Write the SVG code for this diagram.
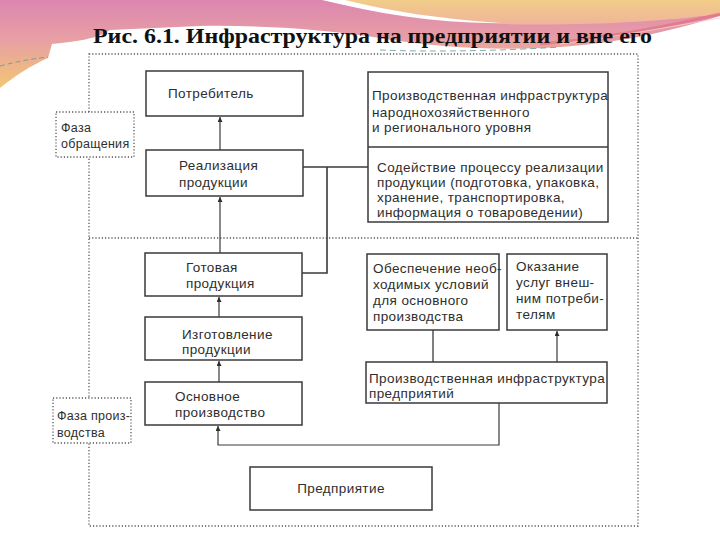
<svg xmlns="http://www.w3.org/2000/svg" width="720" height="540" viewBox="0 0 720 540">
<defs>
<style>
.t{font-family:"Liberation Sans",Arial,sans-serif;font-size:13.5px;letter-spacing:0.4px;fill:#2e2e2e}
.p{font-family:"Liberation Sans",Arial,sans-serif;font-size:12.5px;letter-spacing:0.3px;fill:#2e2e2e}
.box{fill:#fff;stroke:#3a3a3a;stroke-width:1.5}
.dot{fill:none;stroke:#555;stroke-width:1.3;stroke-dasharray:1.2 2}
.dotbox{fill:#fff;stroke:#555;stroke-width:1.3;stroke-dasharray:1.2 2}
.ln{fill:none;stroke:#3a3a3a;stroke-width:1.3}
.ar{fill:none;stroke:#3a3a3a;stroke-width:1.2;marker-end:url(#ah)}
</style>
<marker id="ah" markerWidth="6" markerHeight="5" refX="5" refY="2.5" orient="auto" markerUnits="userSpaceOnUse">
<path d="M0,0 L5,2.5 L0,5 z" fill="#2e2e2e"/>
</marker>
<linearGradient id="gl" x1="0" y1="0" x2="0" y2="90" gradientUnits="userSpaceOnUse">
<stop offset="0" stop-color="#dc86b0"/>
<stop offset="0.45" stop-color="#e8a0a4"/>
<stop offset="1" stop-color="#f3c870"/>
</linearGradient>
<linearGradient id="gr" x1="0" y1="0" x2="0" y2="50" gradientUnits="userSpaceOnUse">
<stop offset="0" stop-color="#f1cd88"/>
<stop offset="0.5" stop-color="#f0b49a"/>
<stop offset="1" stop-color="#eea0a8"/>
</linearGradient>
</defs>

<g id="background">
<rect x="0" y="0" width="720" height="540" fill="#ffffff"/>
<path d="M0,0 L720,0 L720,16 C680,28 630,42 560,47 C500,51 440,48 380,38 C330,30 270,25 200,26 L110,30 C100,36 92,40 52,44 L48,58 C30,66 15,76 0,88 Z" fill="url(#gl)"/>
<path d="M340,0 L720,0 L720,14 C660,22 580,26 500,24 C440,20 390,10 340,0 Z" fill="url(#gr)"/>
<path d="M322,0 L345,0 C390,11 440,19 500,23 C440,24 380,14 322,0 Z" fill="#ffffff"/>
<path d="M540,44 C610,38 670,26 720,14" fill="none" stroke="#e27080" stroke-width="3" opacity="0.7"/>
<path d="M560,44 C620,36 675,26 720,18" fill="none" stroke="#f6d0d0" stroke-width="1" opacity="0.8"/>
<path d="M380,50 C430,52 500,51 560,47" fill="none" stroke="#5f9a98" stroke-width="1" stroke-dasharray="6 4" opacity="0.8"/>
<path d="M0,66 C15,62 30,59 48,57" fill="none" stroke="#5f9a98" stroke-width="1" stroke-dasharray="5 3" opacity="0.8"/>
</g>

<text id="title" x="93" y="43" font-family="'Liberation Serif','Times New Roman',serif" font-size="22" font-weight="bold" fill="#111" textLength="559" lengthAdjust="spacingAndGlyphs">Рис. 6.1. Инфраструктура на предприятии и вне его</text>

<g id="frame">
<rect class="dot" x="89" y="54" width="549" height="472"/>
<line class="dot" x1="89" y1="238" x2="638" y2="238"/>
</g>

<g id="connectors">
<line class="ar" x1="220" y1="150" x2="220" y2="117"/>
<line class="ar" x1="220" y1="253" x2="220" y2="197"/>
<line class="ar" x1="219" y1="317" x2="219" y2="297"/>
<line class="ar" x1="219" y1="382" x2="219" y2="361"/>
<polyline class="ar" points="499,403 499,445 218,445 218,426"/>
<line class="ar" x1="557" y1="362" x2="557" y2="331"/>
<line class="ln" x1="433" y1="330" x2="433" y2="362"/>
<line class="ln" x1="303" y1="167" x2="368" y2="167" style="stroke-width:1.6"/>
<polyline class="ln" points="302,273 327,273 327,167" style="stroke-width:1.6"/>
</g>

<g id="phase-circulation">
<rect class="dotbox" x="56" y="112" width="78" height="45"/>
<text class="p" x="61" y="132">Фаза</text>
<text class="p" x="61" y="148">обращения</text>
</g>

<g id="phase-production">
<rect class="dotbox" x="53" y="398" width="78" height="45"/>
<text class="p" x="57" y="420">Фаза произ-</text>
<text class="p" x="57" y="437">водства</text>
</g>

<g id="consumer">
<rect class="box" x="146" y="71" width="157" height="45"/>
<text class="t" x="168" y="98">Потребитель</text>
</g>

<g id="realization">
<rect class="box" x="146" y="150" width="157" height="46"/>
<text class="t" x="179" y="170">Реализация</text>
<text class="t" x="179" y="187">продукции</text>
</g>

<g id="finished">
<rect class="box" x="145" y="253" width="157" height="43"/>
<text class="t" x="186" y="272">Готовая</text>
<text class="t" x="186" y="288">продукция</text>
</g>

<g id="manufacturing">
<rect class="box" x="145" y="317" width="157" height="43"/>
<text class="t" x="182" y="339">Изготовление</text>
<text class="t" x="182" y="354">продукции</text>
</g>

<g id="main-production">
<rect class="box" x="145" y="382" width="157" height="43"/>
<text class="t" x="175" y="401">Основное</text>
<text class="t" x="175" y="417">производство</text>
</g>

<g id="national-infrastructure">
<rect class="box" x="368" y="72" width="240" height="150"/>
<line class="ln" x1="368" y1="147" x2="608" y2="147" style="stroke-width:1.5"/>
<text class="t" x="372" y="100">Производственная инфраструктура</text>
<text class="t" x="372" y="117">народнохозяйственного</text>
<text class="t" x="372" y="132">и регионального уровня</text>
<text class="t" x="377" y="172">Содействие процессу реализации</text>
<text class="t" x="377" y="187">продукции (подготовка, упаковка,</text>
<text class="t" x="377" y="202">хранение, транспортировка,</text>
<text class="t" x="377" y="217">информация о товароведении)</text>
</g>

<g id="provision">
<rect class="box" x="367" y="254" width="132" height="76"/>
<text class="t" x="373" y="273">Обеспечение необ-</text>
<text class="t" x="373" y="289">ходимых условий</text>
<text class="t" x="373" y="305">для основного</text>
<text class="t" x="373" y="321">производства</text>
</g>

<g id="services">
<rect class="box" x="507" y="254" width="100" height="76"/>
<text class="t" x="516" y="271">Оказание</text>
<text class="t" x="516" y="287">услуг внеш-</text>
<text class="t" x="516" y="303">ним потреби-</text>
<text class="t" x="516" y="319">телям</text>
</g>

<g id="enterprise-infrastructure">
<rect class="box" x="366" y="362" width="241" height="41"/>
<text class="t" x="369" y="383">Производственная инфраструктура</text>
<text class="t" x="369" y="398">предприятий</text>
</g>

<g id="enterprise">
<rect class="box" x="250" y="467" width="182" height="43"/>
<text class="t" x="341" y="493" text-anchor="middle">Предприятие</text>
</g>
</svg>
